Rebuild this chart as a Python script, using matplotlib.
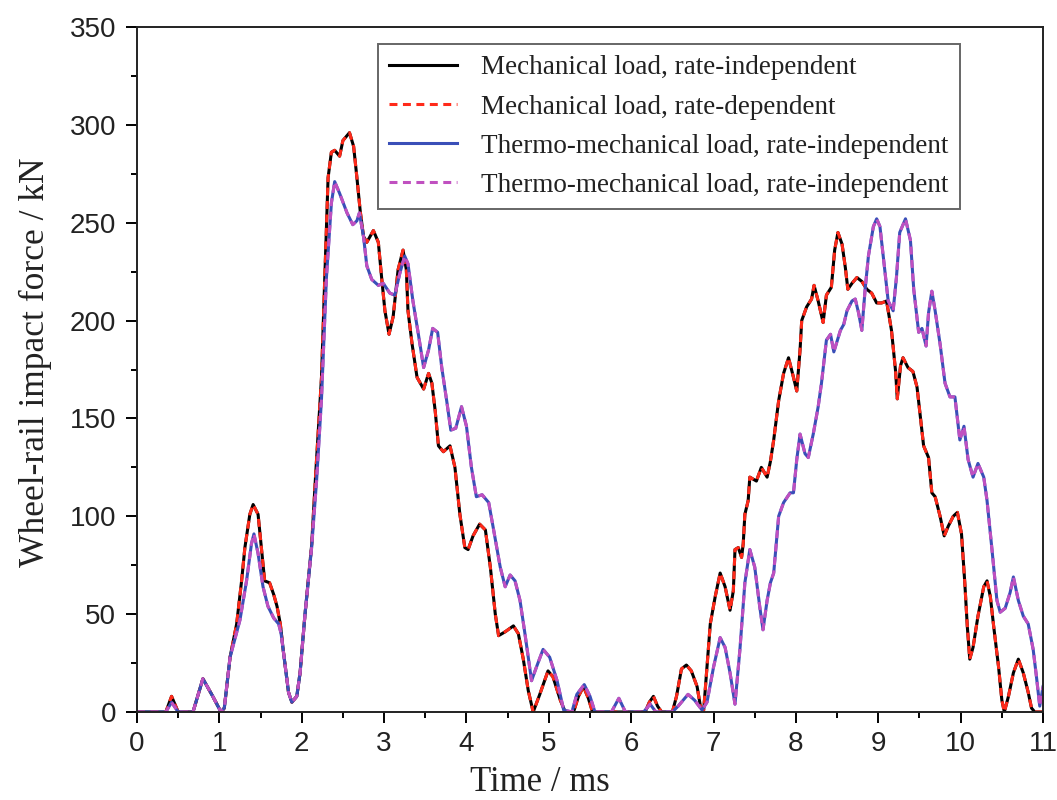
import matplotlib
matplotlib.use("Agg")
import matplotlib.pyplot as plt
from matplotlib.ticker import MultipleLocator

# ---------------- data ----------------
mech_t = [0.00, 0.35, 0.42, 0.50, 0.68, 0.80, 0.92, 1.02, 1.06, 1.13, 1.21, 1.27, 1.31, 1.37,
          1.41, 1.47, 1.51, 1.55, 1.61, 1.66, 1.70, 1.74, 1.78, 1.84, 1.88, 1.94, 1.98, 2.04,
          2.12, 2.17, 2.24, 2.28, 2.32, 2.36, 2.40, 2.46, 2.50, 2.58, 2.63, 2.67, 2.71, 2.75,
          2.79, 2.87, 2.93, 2.97, 3.01, 3.06, 3.11, 3.17, 3.23, 3.27, 3.29, 3.34, 3.40, 3.48,
          3.54, 3.58, 3.62, 3.66, 3.72, 3.80, 3.86, 3.92, 3.98, 4.02, 4.08, 4.16, 4.23, 4.29,
          4.35, 4.39, 4.47, 4.57, 4.63, 4.69, 4.75, 4.81, 4.89, 4.99, 5.05, 5.14, 5.20, 5.30,
          5.36, 5.42, 5.48, 5.53, 6.17, 6.22, 6.27, 6.32, 6.37, 6.50, 6.55, 6.61, 6.67, 6.73,
          6.80, 6.84, 6.88, 6.92, 6.96, 7.02, 7.08, 7.14, 7.20, 7.24, 7.26, 7.30, 7.34, 7.36,
          7.38, 7.42, 7.44, 7.52, 7.58, 7.65, 7.69, 7.73, 7.79, 7.85, 7.91, 7.97, 8.01, 8.05,
          8.07, 8.13, 8.19, 8.22, 8.27, 8.33, 8.37, 8.43, 8.47, 8.51, 8.56, 8.60, 8.63, 8.68,
          8.74, 8.80, 8.86, 8.92, 8.98, 9.04, 9.10, 9.16, 9.21, 9.23, 9.27, 9.30, 9.36, 9.42,
          9.47, 9.51, 9.55, 9.61, 9.65, 9.69, 9.75, 9.80, 9.85, 9.91, 9.96, 10.01, 10.05, 10.08,
          10.11, 10.15, 10.21, 10.28, 10.32, 10.36, 10.40, 10.46, 10.50, 10.53, 10.58, 10.64,
          10.70, 10.76, 10.82, 10.86, 10.90, 11.00]
mech_f = [0, 0, 8, 0, 0, 17, 8, 0, 2, 28, 45, 67, 84, 101,
          106, 101, 84, 67, 66, 60, 54, 45, 30, 10, 5, 8, 20, 50,
          85, 122, 171, 222, 273, 286, 287, 284, 292, 296, 289, 273, 256, 243,
          240, 246, 240, 222, 205, 193, 202, 226, 236, 226, 205, 188, 171, 165,
          173, 168, 154, 136, 133, 136, 125, 101, 84, 83, 90, 96, 93, 74,
          50, 39, 41, 44, 40, 27, 11, 0, 9, 21, 18, 6, 0, 0,
          8, 13, 7, 0, 0, 5, 8, 3, 0, 0, 8, 22, 24, 21,
          13, 3, 1, 23, 45, 59, 71, 64, 52, 62, 83, 84, 79, 86,
          101, 108, 120, 118, 125, 120, 128, 139, 159, 173, 181, 171, 164, 185,
          200, 207, 211, 218, 210, 199, 213, 217, 236, 245, 239, 227, 216, 219,
          222, 220, 216, 214, 209, 209, 210, 195, 174, 160, 177, 181, 176, 174,
          166, 151, 136, 130, 112, 110, 100, 90, 95, 100, 102, 91, 66, 44,
          27, 33, 49, 64, 67, 59, 44, 23, 6, 0, 8, 20,
          27, 20, 10, 2, 0, 0]

thermo_t = [0.00, 0.35, 0.42, 0.50, 0.68, 0.80, 0.92, 1.02, 1.06, 1.13, 1.25, 1.33, 1.39, 1.42,
            1.47, 1.53, 1.59, 1.66, 1.72, 1.75, 1.78, 1.84, 1.88, 1.94, 1.98, 2.04, 2.12, 2.18,
            2.24, 2.30, 2.36, 2.40, 2.46, 2.55, 2.62, 2.67, 2.70, 2.75, 2.79, 2.85, 2.93, 2.99,
            3.07, 3.13, 3.19, 3.25, 3.29, 3.35, 3.42, 3.48, 3.54, 3.59, 3.65, 3.70, 3.76, 3.81,
            3.87, 3.94, 4.00, 4.06, 4.12, 4.19, 4.27, 4.33, 4.41, 4.47, 4.53, 4.59, 4.65, 4.71,
            4.79, 4.85, 4.93, 5.01, 5.10, 5.18, 5.28, 5.34, 5.43, 5.50, 5.56, 5.76, 5.85, 5.93,
            6.15, 6.23, 6.30, 6.50, 6.57, 6.69, 6.77, 6.86, 6.92, 7.00, 7.08, 7.14, 7.20, 7.26,
            7.32, 7.38, 7.44, 7.50, 7.56, 7.60, 7.65, 7.69, 7.73, 7.79, 7.85, 7.93, 7.97, 8.01,
            8.05, 8.11, 8.15, 8.21, 8.27, 8.31, 8.37, 8.42, 8.46, 8.54, 8.58, 8.62, 8.68, 8.72,
            8.76, 8.80, 8.84, 8.88, 8.94, 8.98, 9.02, 9.06, 9.12, 9.18, 9.22, 9.26, 9.33, 9.39,
            9.43, 9.49, 9.53, 9.58, 9.61, 9.65, 9.69, 9.75, 9.81, 9.87, 9.93, 9.99, 10.04, 10.09,
            10.15, 10.21, 10.28, 10.32, 10.38, 10.44, 10.48, 10.54, 10.60, 10.64, 10.70, 10.76,
            10.82, 10.88, 10.92, 10.96, 11.00]
thermo_f = [0, 0, 5, 0, 0, 17, 8, 0, 2, 28, 47, 67, 86, 91,
            81, 64, 54, 48, 45, 40, 30, 10, 5, 8, 20, 50, 84, 118,
            160, 222, 260, 271, 265, 255, 249, 251, 255, 243, 228, 221, 218, 219,
            214, 213, 224, 233, 229, 210, 192, 176, 185, 196, 194, 176, 159, 144,
            145, 156, 146, 125, 110, 111, 107, 93, 74, 64, 70, 67, 57, 40,
            16, 23, 32, 28, 16, 1, 0, 9, 14, 8, 0, 0, 7, 0,
            0, 4, 0, 0, 3, 9, 6, 1, 5, 23, 38, 33, 20, 4,
            32, 66, 83, 74, 54, 42, 57, 66, 71, 100, 107, 112, 112, 129,
            142, 132, 130, 142, 156, 168, 190, 193, 184, 195, 198, 205, 210, 211,
            204, 195, 216, 233, 248, 252, 248, 233, 210, 205, 222, 245, 252, 241,
            216, 194, 196, 187, 204, 215, 205, 188, 168, 161, 161, 139, 146, 129,
            120, 127, 120, 108, 83, 57, 51, 53, 61, 69, 57, 49,
            45, 32, 18, 3, 13]

labels = ["Mechanical load, rate-independent",
          "Mechanical load, rate-dependent",
          "Thermo-mechanical load, rate-independent",
          "Thermo-mechanical load, rate-independent"]

x_ticks = list(range(0, 12))
y_ticks = list(range(0, 351, 50))

# ---------------- figure ----------------
fig = plt.figure(figsize=(10.57, 8.0), dpi=100)
ax = fig.add_axes([0.1296, 0.11, 0.8572, 0.85625])

lw = 2.2
dash = (2.6, 1.8)
ax.plot(mech_t, mech_f, color="black", lw=lw, label=labels[0], solid_joinstyle="round")
ax.plot(mech_t, mech_f, color="#ff2a1a", lw=lw, ls=(0, dash), label=labels[1])
ax.plot(thermo_t, thermo_f, color="#3a4fb8", lw=lw, label=labels[2], solid_joinstyle="round")
ax.plot(thermo_t, thermo_f, color="#c050c0", lw=lw, ls=(0, dash), label=labels[3])

ax.set_xlim(0, 11)
ax.set_ylim(0, 350)
ax.set_xticks(x_ticks)
ax.set_yticks(y_ticks)
ax.xaxis.set_minor_locator(MultipleLocator(0.5))
ax.yaxis.set_minor_locator(MultipleLocator(25))

tick_color = "#222222"
ax.tick_params(axis="both", which="major", direction="out", length=8, width=1.4,
               labelsize=20, labelcolor=tick_color)
ax.tick_params(axis="y", which="major", pad=7)
ax.tick_params(axis="x", which="major", pad=6)
ax.tick_params(axis="both", which="minor", direction="out", length=4.5, width=1.4)
ax.tick_params(top=False, right=False, which="both")
for lab in ax.get_xticklabels() + ax.get_yticklabels():
    lab.set_fontfamily(["Liberation Sans", "DejaVu Sans"])
for sp in ax.spines.values():
    sp.set_linewidth(1.4)
    sp.set_color("#222222")

serif = ["Liberation Serif", "DejaVu Serif"]
ax.set_xlabel("Time / ms", fontsize=25, family=serif, color="#222222")
ax.set_ylabel("Wheel-rail impact force / kN", fontsize=25.5, family=serif, color="#222222")
ax.xaxis.set_label_coords(0.445, -0.079)
ax.yaxis.set_label_coords(-0.094, 0.51)

leg = ax.legend(loc="upper left", bbox_to_anchor=(0.266, 0.975), frameon=True,
                fancybox=False, edgecolor="#666666", framealpha=1,
                prop={"family": serif, "size": 19.5}, handlelength=2.5,
                handletextpad=0.9, labelspacing=0.52, borderpad=0.42,
                borderaxespad=0)
leg.get_frame().set_linewidth(1.4)
for t in leg.get_texts():
    t.set_color("#222222")

fig.savefig("out.png", dpi=100)
